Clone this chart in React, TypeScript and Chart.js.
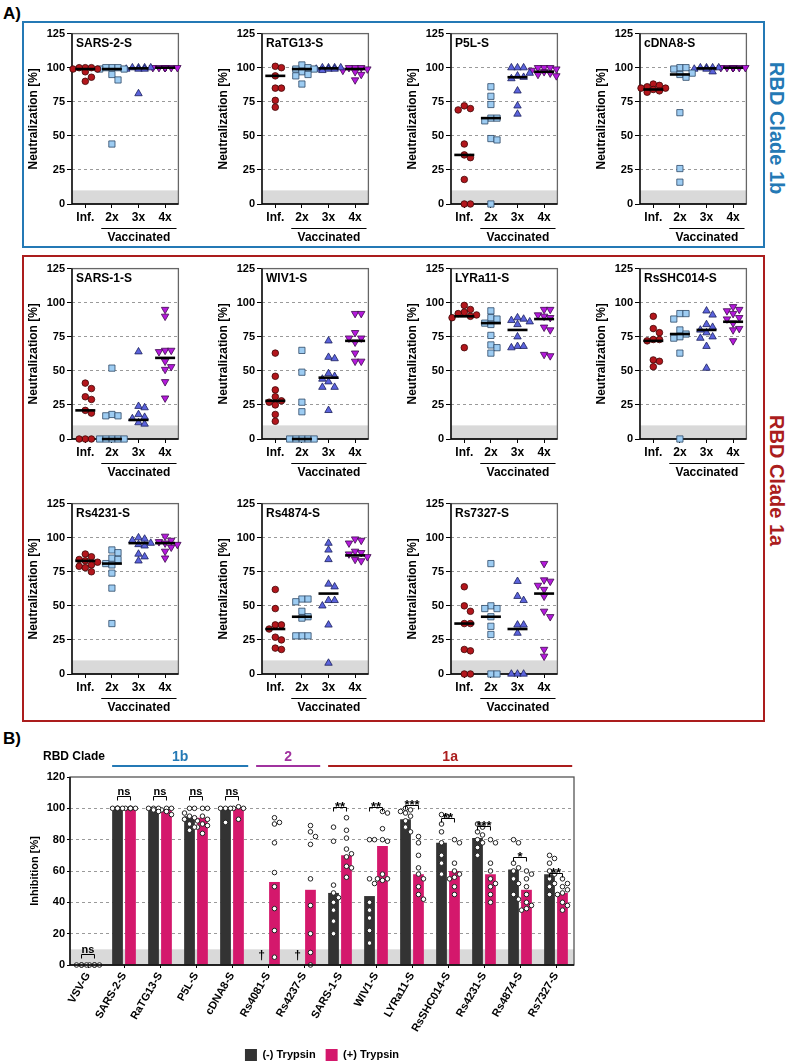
import React, { useEffect, useRef } from 'react';
import { Chart, registerables } from 'chart.js';

Chart.register(...registerables);

const FONT = "'Liberation Sans', Arial, Helvetica, sans-serif";
Chart.defaults.font.family = FONT;
Chart.defaults.color = '#000';

// ---------------- Panel A data ----------------
const groupLabels = ['Inf.', '2x', '3x', '4x'];

const sars2S = [
  [100, 100, 100, 99, 99, 97, 93, 90],
  [100, 100, 100, 99, 99, 95, 91, 44],
  [100, 100, 100, 99, 99, 99, 100, 81],
  [100, 100, 100, 100, 100, 100, 100, 100, 100],
];
const sars2SMed = [99, 99, 99.5, 100];

const ratg13S = [
  [101, 100, 94, 85, 85, 76, 71],
  [102, 100, 99, 99, 97, 95, 94, 88],
  [100, 100, 100, 99, 99, 99, 98, 100],
  [100, 100, 100, 99, 98, 97, 95, 91],
];
const ratg13SMed = [94, 99, 99.5, 99];

const p5lS = [
  [72, 69, 70, 44, 36, 34, 18, 0, 0],
  [86, 79, 73, 63, 63, 61, 48, 47, 0],
  [100, 100, 100, 96, 94, 93, 92, 83, 72, 66],
  [100, 100, 100, 99, 98, 97, 96, 95, 94],
];
const p5lSMed = [36, 63, 93, 97];

const cdna8S = [
  [88, 87, 86, 85, 84, 83, 82, 85],
  [100, 100, 99, 96, 95, 93, 67, 26, 16],
  [100, 100, 100, 100, 99, 99, 97],
  [100, 100, 100, 100, 100, 100, 100, 100, 100],
];
const cdna8SMed = [84, 95, 99.5, 100];

const sars1S = [
  [41, 37, 31, 29, 21, 19, 0, 0, 0],
  [52, 18, 17, 17, 0, 0, 0, 0, 0],
  [64, 24, 23, 18, 16, 15, 12, 11],
  [95, 90, 65, 65, 64, 57, 53, 51, 42, 30],
];
const sars1SMed = [21, 0, 14, 59.5];

const wiv1S = [
  [63, 46, 36, 31, 28, 27, 25, 18, 13],
  [65, 49, 27, 20, 0, 0, 0, 0, 0],
  [72, 60, 59, 48, 46, 44, 42, 38, 38, 21],
  [92, 92, 78, 74, 74, 71, 63, 57, 57],
];
const wiv1SMed = [28, 0, 45, 72];

const lyra11S = [
  [98, 95, 93, 92, 91, 90, 89, 67],
  [94, 89, 88, 85, 84, 76, 69, 67, 63],
  [89, 88, 87, 86, 84, 75, 68, 68, 67],
  [95, 95, 91, 90, 89, 82, 80, 62, 61],
];
const lyra11SMed = [90, 85, 80, 88];

const rsshc014S = [
  [90, 81, 78, 73, 72, 73, 58, 57, 53],
  [92, 92, 88, 80, 77, 75, 74, 63, 0],
  [94, 91, 84, 82, 80, 78, 75, 74, 68, 52],
  [97, 95, 94, 92, 89, 88, 85, 81, 80, 72],
];
const rsshc014SMed = [72, 77, 80, 86];

const rs4231S = [
  [88, 86, 84, 83, 82, 80, 79, 78, 75],
  [91, 89, 85, 84, 81, 80, 74, 63, 37],
  [100, 99, 98, 96, 95, 94, 88, 86, 83],
  [101, 98, 97, 96, 95, 93, 90, 85],
];
const rs4231SMed = [83, 81, 96, 96];

const rs4874S = [
  [62, 48, 36, 36, 33, 27, 25, 18, 19],
  [55, 55, 53, 46, 42, 41, 28, 28, 28],
  [96, 91, 84, 66, 64, 54, 54, 50, 36, 8],
  [99, 98, 96, 90, 89, 88, 86, 84, 83],
];
const rs4874SMed = [33, 42, 59, 87];

const rs7327S = [
  [64, 50, 46, 37, 37, 18, 17, 0, 0],
  [81, 50, 48, 48, 42, 35, 29, 0, 0],
  [68, 57, 54, 36, 36, 30, 0, 0, 0],
  [81, 69, 68, 65, 62, 57, 46, 42, 18, 13],
];
const rs7327SMed = [37, 42, 33, 59];

// ---------------- Panel B data ----------------
const bCats = ['VSV-G', 'SARS-2-S', 'RaTG13-S', 'P5L-S', 'cDNA8-S', 'Rs4081-S', 'Rs4237-S', 'SARS-1-S', 'WIV1-S', 'LYRa11-S', 'RsSHC014-S', 'Rs4231-S', 'Rs4874-S', 'Rs7327-S'];
const barNoTrypsin = [0.6, 100, 100, 95, 100, null, null, 46, 44, 93, 78, 81, 61, 58];
const barTrypsin = [0.6, 100, 99, 94, 100, 53, 48, 70, 76, 58, 60, 58, 48, 46];
const ptsNoTrypsin = [
  [0, 0, 0, 0],
  [100, 100, 100, 100, 100],
  [100, 100, 100, 99, 98],
  [100, 100, 97, 95, 94, 93, 90, 88, 86],
  [100, 100, 100, 91],
  [],
  [],
  [88, 79, 51, 46, 43, 40, 35, 28, 20],
  [80, 80, 55, 52, 40, 35, 30, 22, 14],
  [100, 99, 98, 97, 95, 92, 88, 85],
  [96, 95, 90, 85, 78, 70, 65, 58],
  [90, 88, 85, 83, 80, 78, 75, 70],
  [80, 78, 65, 62, 60, 55, 52, 45, 42],
  [70, 68, 65, 60, 58, 55, 52, 50, 45],
];
const ptsTrypsin = [
  [0, 0, 0, 0],
  [100, 100, 100, 100, 100],
  [100, 100, 99, 98, 96],
  [100, 100, 95, 93, 92, 90, 89, 88, 84],
  [101, 100, 100, 93],
  [94, 91, 90, 78, 59, 50, 36, 22, 5],
  [89, 85, 82, 77, 55, 38, 20, 8, 0],
  [94, 86, 81, 74, 71, 69, 63, 62, 56],
  [98, 97, 87, 80, 79, 58, 55, 55, 54],
  [82, 78, 70, 62, 58, 55, 50, 45, 42],
  [80, 78, 65, 60, 58, 56, 55, 50, 45],
  [80, 78, 65, 60, 55, 52, 50, 45, 40],
  [60, 58, 55, 50, 45, 40, 38, 36, 35],
  [55, 52, 50, 48, 46, 45, 40, 38, 35],
];
const sigText = ['ns', 'ns', 'ns', 'ns', 'ns', '', '', '**', '**', '***', '**', '***', '*', '**'];
const sigLevel = [7, 108, 108, 108, 108, null, null, 101, 101, 102, 94, 89, 69, 59];
const daggerCats = [5, 6];
const cladeNames = ['1b', '2', '1a'];
const cladeFrom = [1, 5, 7];
const cladeTo = [4, 6, 13];

// ---------------- styles ----------------
const grpShape = ['circle', 'rect', 'triangle', 'triangle'];
const grpRot = [0, 0, 0, 180];
const grpRadius = [3.3, 4.4, 4.3, 4.3];
const grpFill = ['#b3161c', '#9dccf2', '#5b63dc', '#b519dc'];
const grpEdge = ['#3d0606', '#2c4766', '#1b1f5c', '#3d0a4d'];
const BLUE = '#2479b5';
const RED = '#ab1d1d';
const PURPLE = '#a0329f';
const cladeColors = [BLUE, PURPLE, RED];
const DARK = '#333333';
const PINK = '#d4186c';

const panelsA = [
  { title: 'SARS-2-S', data: sars2S, med: sars2SMed, col: 0, row: 0 },
  { title: 'RaTG13-S', data: ratg13S, med: ratg13SMed, col: 1, row: 0 },
  { title: 'P5L-S', data: p5lS, med: p5lSMed, col: 2, row: 0 },
  { title: 'cDNA8-S', data: cdna8S, med: cdna8SMed, col: 3, row: 0 },
  { title: 'SARS-1-S', data: sars1S, med: sars1SMed, col: 0, row: 1 },
  { title: 'WIV1-S', data: wiv1S, med: wiv1SMed, col: 1, row: 1 },
  { title: 'LYRa11-S', data: lyra11S, med: lyra11SMed, col: 2, row: 1 },
  { title: 'RsSHC014-S', data: rsshc014S, med: rsshc014SMed, col: 3, row: 1 },
  { title: 'Rs4231-S', data: rs4231S, med: rs4231SMed, col: 0, row: 2 },
  { title: 'Rs4874-S', data: rs4874S, med: rs4874SMed, col: 1, row: 2 },
  { title: 'Rs7327-S', data: rs7327S, med: rs7327SMed, col: 2, row: 2 },
];

const colLeft = [72, 262, 451, 640];
const rowTop = [33, 268, 503];
const PW = 113;
const PH = 171;
const AXW = 46;
const PADT = 12;
const PADR = 6;
const XAH = 42;

// deterministic beeswarm layout (pixel offsets)
function swarm(values: number[], pxPerUnit: number, step: number, maxSteps: number, minDist: number): number[] {
  const order = values.map((_, i) => i).sort((a, b) => values[b] - values[a]);
  const cands: number[] = [0];
  for (let k = 1; k <= maxSteps; k++) cands.push(k * step, -k * step);
  const placed: { x: number; y: number }[] = [];
  const out = values.map(() => 0);
  for (const i of order) {
    const y = values[i] * pxPerUnit;
    let best = 0;
    let bestD = -1;
    for (const c of cands) {
      let d = Infinity;
      for (const p of placed) d = Math.min(d, Math.hypot(p.x - c, p.y - y));
      if (d >= minDist) { best = c; break; }
      if (d > bestD + 0.5) { bestD = d; best = c; }
    }
    placed.push({ x: best, y });
    out[i] = best;
  }
  return out;
}

function SmallChart({ title, data, med, left, top }: any) {
  const ref = useRef<HTMLCanvasElement>(null);
  useEffect(() => {
    const catPx = PW / 4;
    const pyu = PH / 125;
    const datasets: any[] = data.map((vals: number[], g: number) => {
      const offs = swarm(vals, pyu, 6.5, 2, 6.5);
      return {
        data: vals.map((v, i) => ({ x: g + offs[i] / catPx, y: v })),
        pointStyle: grpShape[g],
        pointRotation: grpRot[g],
        pointRadius: grpRadius[g],
        pointBackgroundColor: grpFill[g],
        pointBorderColor: grpEdge[g],
        pointBorderWidth: 0.8,
        clip: false,
        order: 2,
      };
    });
    datasets.push({
      data: med.map((m: number, g: number) => ({ x: g, y: m })),
      pointStyle: 'line',
      pointRadius: 10,
      pointBorderColor: '#000',
      pointBorderWidth: 2.6,
      clip: false,
      order: 1,
    });
    const deco = {
      id: 'deco',
      beforeDatasetsDraw(chart: any) {
        const { ctx, chartArea: a, scales } = chart;
        const y = scales.y;
        const x = scales.x;
        ctx.save();
        ctx.fillStyle = '#d9d9d9';
        const y10 = y.getPixelForValue(10);
        const y0 = y.getPixelForValue(0);
        ctx.fillRect(a.left, y10, a.right - a.left, y0 - y10);
        ctx.strokeStyle = '#666';
        ctx.lineWidth = 1.3;
        ctx.strokeRect(a.left, a.top, a.right - a.left, a.bottom - a.top);
        ctx.strokeStyle = '#000';
        ctx.beginPath();
        ctx.moveTo(a.left, a.top);
        ctx.lineTo(a.left, a.bottom);
        ctx.lineTo(a.right, a.bottom);
        ctx.stroke();
        ctx.fillStyle = '#000';
        ctx.font = `bold 12px ${FONT}`;
        ctx.textBaseline = 'middle';
        ctx.textAlign = 'left';
        ctx.fillText(title, a.left + 4, a.top + 10);
        const x1 = x.getPixelForValue(0.6);
        const x2 = x.getPixelForValue(3.43);
        const ly = Math.round(a.bottom + 24) + 0.5;
        ctx.lineWidth = 1;
        ctx.beginPath();
        ctx.moveTo(x1, ly);
        ctx.lineTo(x2, ly);
        ctx.stroke();
        ctx.textAlign = 'center';
        ctx.fillText('Vaccinated', (x1 + x2) / 2, ly + 9);
        ctx.restore();
      },
    };
    const chart = new Chart(ref.current as HTMLCanvasElement, {
      type: 'scatter',
      data: { datasets },
      options: {
        animation: false,
        responsive: false,
        maintainAspectRatio: false,
        events: [],
        layout: { padding: { top: PADT, right: PADR, left: 0, bottom: 0 } },
        plugins: { legend: { display: false }, tooltip: { enabled: false } },
        scales: {
          x: {
            type: 'linear',
            min: -0.5,
            max: 3.5,
            afterBuildTicks: (s: any) => { s.ticks = [0, 1, 2, 3].map((v) => ({ value: v })); },
            afterFit: (s: any) => { s.height = XAH; },
            ticks: {
              callback: (v: any) => groupLabels[v],
              font: { size: 12, weight: 'bold' },
              color: '#000',
              padding: 2,
              maxRotation: 0,
              autoSkip: false,
            },
            grid: { drawOnChartArea: false, color: '#000', tickColor: '#000', tickLength: 4 },
            border: { display: false },
          },
          y: {
            min: 0,
            max: 125,
            afterFit: (s: any) => { s.width = AXW; },
            ticks: { stepSize: 25, font: { size: 11, weight: 'bold' }, color: '#000', padding: 2 },
            grid: {
              color: (c: any) => (c.tick && (c.tick.value === 0 || c.tick.value === 125) ? 'rgba(0,0,0,0)' : '#9a9a9a'),
              tickColor: '#000',
              tickLength: 5,
              lineWidth: 1,
            },
            border: { display: false, dash: [3, 3] },
            title: { display: true, text: 'Neutralization [%]', font: { size: 12, weight: 'bold' }, color: '#000', padding: { top: 0, bottom: 0 } },
          },
        },
      } as any,
      plugins: [deco],
    });
    return () => chart.destroy();
  }, []);
  const w = AXW + PW + PADR;
  const h = PADT + PH + XAH;
  return (
    <canvas
      ref={ref}
      width={w}
      height={h}
      style={{ position: 'absolute', left: left - AXW, top: top - PADT, width: w, height: h }}
    />
  );
}

const B_LEFT = 0;
const B_TOP = 745;
const B_W = 600;
const B_H = 326;
const B_RIGHT = 574;
const BAR_SHIFT = 0.18;

function PanelB() {
  const ref = useRef<HTMLCanvasElement>(null);
  useEffect(() => {
    const catPx = (B_RIGHT - 70) / bCats.length;
    const pyu = 188 / 120;
    const mk = (pts: number[][], shift: number) => {
      const out: any[] = [];
      pts.forEach((vals, i) => {
        const offs = swarm(vals, pyu, 5, 1, 5);
        vals.forEach((v, k) => out.push({ x: i + shift + offs[k] / catPx, y: v }));
      });
      return out;
    };
    const ptStyle = {
      type: 'scatter',
      pointRadius: 2.3,
      pointBackgroundColor: '#fff',
      pointBorderColor: '#222',
      pointBorderWidth: 1,
      clip: false,
      order: 1,
    };
    const deco = {
      id: 'bdeco',
      beforeDatasetsDraw(chart: any) {
        const { ctx, chartArea: a, scales } = chart;
        const y = scales.y;
        ctx.save();
        ctx.fillStyle = '#d9d9d9';
        const y10 = y.getPixelForValue(10);
        const y0 = y.getPixelForValue(0);
        ctx.fillRect(a.left, y10, a.right - a.left, y0 - y10);
        ctx.restore();
      },
      afterDatasetsDraw(chart: any) {
        const { ctx, chartArea: a, scales } = chart;
        const y = scales.y;
        const x = scales.x;
        ctx.save();
        ctx.strokeStyle = '#555';
        ctx.lineWidth = 1.3;
        ctx.strokeRect(a.left, a.top, a.right - a.left, a.bottom - a.top);
        ctx.strokeStyle = '#000';
        ctx.beginPath();
        ctx.moveTo(a.left, a.top);
        ctx.lineTo(a.left, a.bottom);
        ctx.lineTo(a.right, a.bottom);
        ctx.stroke();
        ctx.lineWidth = 1;
        ctx.fillStyle = '#000';
        ctx.textAlign = 'center';
        ctx.textBaseline = 'alphabetic';
        sigLevel.forEach((lv, i) => {
          if (lv == null) return;
          const x1 = x.getPixelForValue(i - BAR_SHIFT);
          const x2 = x.getPixelForValue(i + BAR_SHIFT);
          const yy = Math.round(y.getPixelForValue(lv)) + 0.5;
          ctx.beginPath();
          ctx.moveTo(x1, yy + 4);
          ctx.lineTo(x1, yy);
          ctx.lineTo(x2, yy);
          ctx.lineTo(x2, yy + 4);
          ctx.stroke();
          const t = sigText[i];
          if (t.indexOf('*') >= 0) {
            ctx.font = `bold 13px ${FONT}`;
            ctx.fillText(t, (x1 + x2) / 2, yy + 3);
          } else {
            ctx.font = `bold 11px ${FONT}`;
            ctx.fillText(t, (x1 + x2) / 2, yy - 2);
          }
        });
        ctx.font = `bold 12px ${FONT}`;
        ctx.textBaseline = 'middle';
        daggerCats.forEach((i) => {
          ctx.fillText('\u2020', x.getPixelForValue(i - BAR_SHIFT), y.getPixelForValue(6));
        });
        ctx.restore();
      },
      afterDraw(chart: any) {
        const { ctx, scales } = chart;
        const x = scales.x;
        ctx.save();
        ctx.fillStyle = '#000';
        ctx.font = `bold 12px ${FONT}`;
        ctx.textBaseline = 'middle';
        ctx.textAlign = 'left';
        ctx.fillText('RBD Clade', 43, 12);
        cladeNames.forEach((n, k) => {
          const x1 = x.getPixelForValue(cladeFrom[k] - 0.33);
          const x2 = x.getPixelForValue(cladeTo[k] + 0.45);
          ctx.strokeStyle = cladeColors[k];
          ctx.lineWidth = 2;
          ctx.beginPath();
          ctx.moveTo(x1, 21);
          ctx.lineTo(x2, 21);
          ctx.stroke();
          ctx.fillStyle = cladeColors[k];
          ctx.font = `bold 14px ${FONT}`;
          ctx.textAlign = 'center';
          ctx.fillText(n, (x1 + x2) / 2, 12);
        });
        ctx.restore();
      },
    };
    const chart = new Chart(ref.current as HTMLCanvasElement, {
      type: 'bar',
      data: {
        datasets: [
          { type: 'bar', label: '(-) Trypsin', data: barNoTrypsin.map((v, i) => ({ x: i, y: v })), backgroundColor: DARK, borderWidth: 0, order: 2, categoryPercentage: 0.72, barPercentage: 0.83 },
          { type: 'bar', label: '(+) Trypsin', data: barTrypsin.map((v, i) => ({ x: i, y: v })), backgroundColor: PINK, borderWidth: 0, order: 2, categoryPercentage: 0.72, barPercentage: 0.83 },
          { ...ptStyle, label: 'pts-', data: mk(ptsNoTrypsin, -BAR_SHIFT) },
          { ...ptStyle, label: 'pts+', data: mk(ptsTrypsin, BAR_SHIFT) },
        ] as any,
      },
      options: {
        animation: false,
        responsive: false,
        maintainAspectRatio: false,
        events: [],
        layout: { padding: { top: 32, right: B_W - B_RIGHT, left: 28, bottom: 0 } },
        plugins: {
          tooltip: { enabled: false },
          legend: {
            position: 'bottom',
            fullSize: false,
            labels: {
              filter: (it: any) => it.datasetIndex < 2,
              boxWidth: 12,
              boxHeight: 12,
              padding: 10,
              color: '#000',
              font: { size: 11, weight: 'bold' },
            },
          },
        },
        scales: {
          x: {
            type: 'linear',
            min: -0.5,
            max: bCats.length - 0.5,
            offset: false,
            afterBuildTicks: (s: any) => { s.ticks = bCats.map((_, i) => ({ value: i })); },
            afterFit: (s: any) => { s.height = 74; },
            ticks: {
              callback: (v: any) => bCats[v],
              font: { size: 11, weight: 'bold' },
              color: '#000',
              minRotation: 60,
              maxRotation: 60,
              autoSkip: false,
              padding: 2,
            },
            grid: { drawOnChartArea: false, offset: false, tickLength: 3, tickColor: '#000', color: '#000' },
            border: { display: false },
          },
          y: {
            min: 0,
            max: 120,
            afterFit: (s: any) => { s.width = 42; },
            ticks: { stepSize: 20, font: { size: 11, weight: 'bold' }, color: '#000', padding: 2 },
            grid: {
              color: (c: any) => (c.tick && (c.tick.value === 0 || c.tick.value === 120) ? 'rgba(0,0,0,0)' : '#9a9a9a'),
              tickColor: '#000',
              tickLength: 3,
            },
            border: { display: false, dash: [3, 3] },
            title: { display: true, text: 'Inhibition [%]', font: { size: 11, weight: 'bold' }, color: '#000', padding: { top: 0, bottom: 0 } },
          },
        },
      } as any,
      plugins: [deco],
    });
    return () => chart.destroy();
  }, []);
  return (
    <canvas
      ref={ref}
      width={B_W}
      height={B_H}
      style={{ position: 'absolute', left: B_LEFT, top: B_TOP, width: B_W, height: B_H }}
    />
  );
}

export default function App() {
  const txt: any = { position: 'absolute', fontFamily: FONT, fontWeight: 'bold', lineHeight: 1, whiteSpace: 'nowrap' };
  return (
    <div style={{ position: 'absolute', left: 0, top: 0, width: 788, height: 1064, overflow: 'hidden', background: '#fff' }}>
      <div style={{ ...txt, left: 3, top: 5, fontSize: 17 }}>A)</div>
      <div style={{ ...txt, left: 3, top: 730, fontSize: 17 }}>B)</div>
      <div style={{ position: 'absolute', left: 22, top: 21, width: 743, height: 227, border: `2px solid ${BLUE}`, boxSizing: 'border-box' }} />
      <div style={{ position: 'absolute', left: 22, top: 255, width: 743, height: 467, border: `2px solid ${RED}`, boxSizing: 'border-box' }} />
      <div style={{ ...txt, left: 767, top: 62, fontSize: 20, color: BLUE, writingMode: 'vertical-rl' }}>RBD Clade 1b</div>
      <div style={{ ...txt, left: 767, top: 415, fontSize: 20, color: RED, writingMode: 'vertical-rl' }}>RBD Clade 1a</div>
      {panelsA.map((p) => (
        <SmallChart key={p.title} title={p.title} data={p.data} med={p.med} left={colLeft[p.col]} top={rowTop[p.row]} />
      ))}
      <PanelB />
    </div>
  );
}
